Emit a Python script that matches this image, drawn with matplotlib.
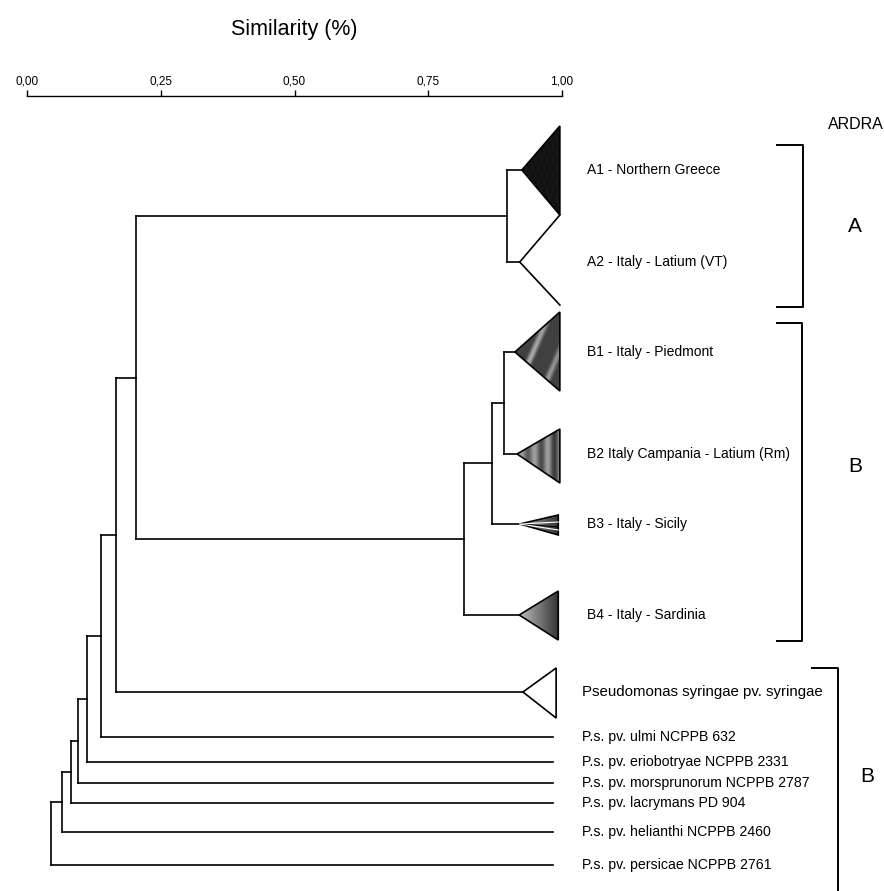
import numpy as np
import matplotlib.pyplot as plt
from matplotlib.patches import Polygon

plt.rcParams['font.family'] = ['Liberation Sans Narrow', 'Liberation Sans', 'DejaVu Sans']

# collapsed clusters (triangles) and single reference strains
groups = ['A1', 'A2', 'B1', 'B2', 'B3', 'B4', 'Pss']
group_labels = ['A1 - Northern Greece', 'A2 - Italy - Latium (VT)', 'B1 - Italy - Piedmont',
                'B2 Italy Campania - Latium (Rm)', 'B3 - Italy - Sicily', 'B4 - Italy - Sardinia',
                'Pseudomonas syringae pv. syringae']
group_sim = [0.925, 0.921, 0.912, 0.916, 0.921, 0.920, 0.927]   # similarity at cluster base
group_fill = ['black', 'open', 'diag', 'vert', 'thin', 'grad', 'outline']

strains = ['ulmi', 'erio', 'mors', 'lacr', 'heli', 'pers']
strain_labels = ['P.s. pv. ulmi NCPPB 632', 'P.s. pv. eriobotryae NCPPB 2331',
                 'P.s. pv. morsprunorum NCPPB 2787', 'P.s. pv. lacrymans PD 904',
                 'P.s. pv. helianthi NCPPB 2460', 'P.s. pv. persicae NCPPB 2761']
strain_end = 0.983

# (child, child, similarity, new node)
merges = [
    ('A1', 'A2', 0.897, 'A'),
    ('B1', 'B2', 0.892, 'B12'),
    ('B12', 'B3', 0.869, 'B123'),
    ('B123', 'B4', 0.817, 'B'),
    ('A', 'B', 0.204, 'AB'),
    ('AB', 'Pss', 0.166, 'n1'),
    ('n1', 'ulmi', 0.138, 'n2'),
    ('n2', 'erio', 0.112, 'n3'),
    ('n3', 'mors', 0.095, 'n4'),
    ('n4', 'lacr', 0.082, 'n5'),
    ('n5', 'heli', 0.065, 'n6'),
    ('n6', 'pers', 0.045, 'root'),
]

ticks = [0.0, 0.25, 0.50, 0.75, 1.0]
tick_labels = ['0,00', '0,25', '0,50', '0,75', '1,00']

ardra_groups = ['A', 'B', 'B']

# --- layout (vertical rows, triangle spans, brackets) ---
rows = {'A1': 170, 'A2': 262, 'B1': 352, 'B2': 454, 'B3': 524, 'B4': 615, 'Pss': 692,
        'ulmi': 737, 'erio': 762, 'mors': 783, 'lacr': 803, 'heli': 832, 'pers': 865}
spans = {'A1': (126, 215), 'A2': (215, 305), 'B1': (312, 391), 'B2': (429, 483),
         'B3': (515, 535), 'B4': (591, 640), 'Pss': (668, 718)}
tri_right = {'A1': 0.996, 'A2': 0.996, 'B1': 0.996, 'B2': 0.996, 'B3': 0.993, 'B4': 0.993, 'Pss': 0.989}
brackets = [(145, 307, 1.402, 1.450, 227, 1.548),
            (323, 641, 1.402, 1.448, 467, 1.548),
            (668, 900, 1.467, 1.516, 777, 1.570)]

lw = 1.2
fig = plt.figure(figsize=(8.84, 8.91), dpi=100)
ax = fig.add_axes([0, 0, 1, 1 - 95.5 / 891])
ax.set_xlim(-27 / 535, (884 - 27) / 535)
ax.set_ylim(891, 95.5)
for s in ['left', 'right', 'bottom']:
    ax.spines[s].set_visible(False)
ax.spines['top'].set_bounds(0, 1)
ax.spines['top'].set_linewidth(1.0)
ax.xaxis.tick_top()
ax.set_xticks(ticks)
ax.set_xticklabels(tick_labels, fontsize=8.5)
ax.tick_params(axis='x', direction='out', length=4, width=1.0, pad=2)
ax.set_yticks([])
fig.text(294 / 884, 1 - 30 / 891, 'Similarity (%)', ha='center', va='center', fontsize=15.5)


def shade(kind, n=80):
    u, v = np.meshgrid(np.linspace(0, 1, n), np.linspace(0, 1, n))
    if kind == 'black':
        return 0.08 + 0.02 * np.sin(40 * u) * np.sin(37 * v)
    if kind == 'diag':
        band = np.clip(np.sin(2 * np.pi * (1.7 * u + 1.3 * v) - 0.6), 0, 1) ** 3
        return 0.25 + 0.5 * band * (1 - 0.4 * u)
    if kind == 'vert':
        return 0.62 - 0.42 * np.sin(np.pi * (3.2 * u - 0.3)) ** 2 * (0.5 + 0.5 * u)
    if kind == 'thin':
        return 0.65 - 0.45 * u
    return 0.75 - 0.55 * u


ypos = dict(rows)
xpos = {}
for g, sim in zip(groups, group_sim):
    xpos[g] = sim
for st in strains:
    xpos[st] = strain_end

# branches
for a, b, sim, new in merges:
    ax.plot([sim, sim], [ypos[a], ypos[b]], color='black', lw=lw, solid_capstyle='projecting')
    for c in (a, b):
        ax.plot([sim, xpos[c]], [ypos[c], ypos[c]], color='black', lw=lw)
    ypos[new] = (ypos[a] + ypos[b]) / 2
    xpos[new] = sim

# triangles
for g, lab, sim, kind in zip(groups, group_labels, group_sim, group_fill):
    top, bot = spans[g]
    r = tri_right[g]
    if g == 'Pss':
        ax.text(1.037, rows[g], lab, ha='left', va='center', fontsize=10.8)
    else:
        ax.text(1.047, rows[g], lab, ha='left', va='center', fontsize=10)
    if kind == 'open':
        ax.plot([r, sim, r], [top, rows[g], bot], color='black', lw=lw)
        continue
    poly = Polygon([(sim, rows[g]), (r, top), (r, bot)], closed=True,
                   facecolor='white' if kind == 'outline' else 'none',
                   edgecolor='black', lw=lw, zorder=3)
    ax.add_patch(poly)
    if kind != 'outline':
        im = ax.imshow(shade(kind), cmap='gray', vmin=0, vmax=1, extent=(sim, r, bot, top),
                       origin='upper', aspect='auto', interpolation='bilinear', zorder=2)
        im.set_clip_path(poly)
    if kind == 'thin':
        for f, col in [(0.35, 'white'), (0.6, 'black'), (0.75, 'white')]:
            ax.plot([sim, r], [rows[g], top + f * (bot - top)], color=col, lw=0.8, zorder=4)

for st, lab in zip(strains, strain_labels):
    ax.text(1.037, rows[st], lab, ha='left', va='center', fontsize=10.2)

# ARDRA brackets
ax.text(1.497, 125, 'ARDRA', ha='left', va='center', fontsize=11.5)
for (top, bot, x0, x1, ly, lx), name in zip(brackets, ardra_groups):
    ax.plot([x0, x1, x1, x0], [top, top, bot, bot], color='black', lw=1.4)
    ax.text(lx, ly, name, ha='center', va='center', fontsize=15)

fig.savefig('out.png', dpi=100)
